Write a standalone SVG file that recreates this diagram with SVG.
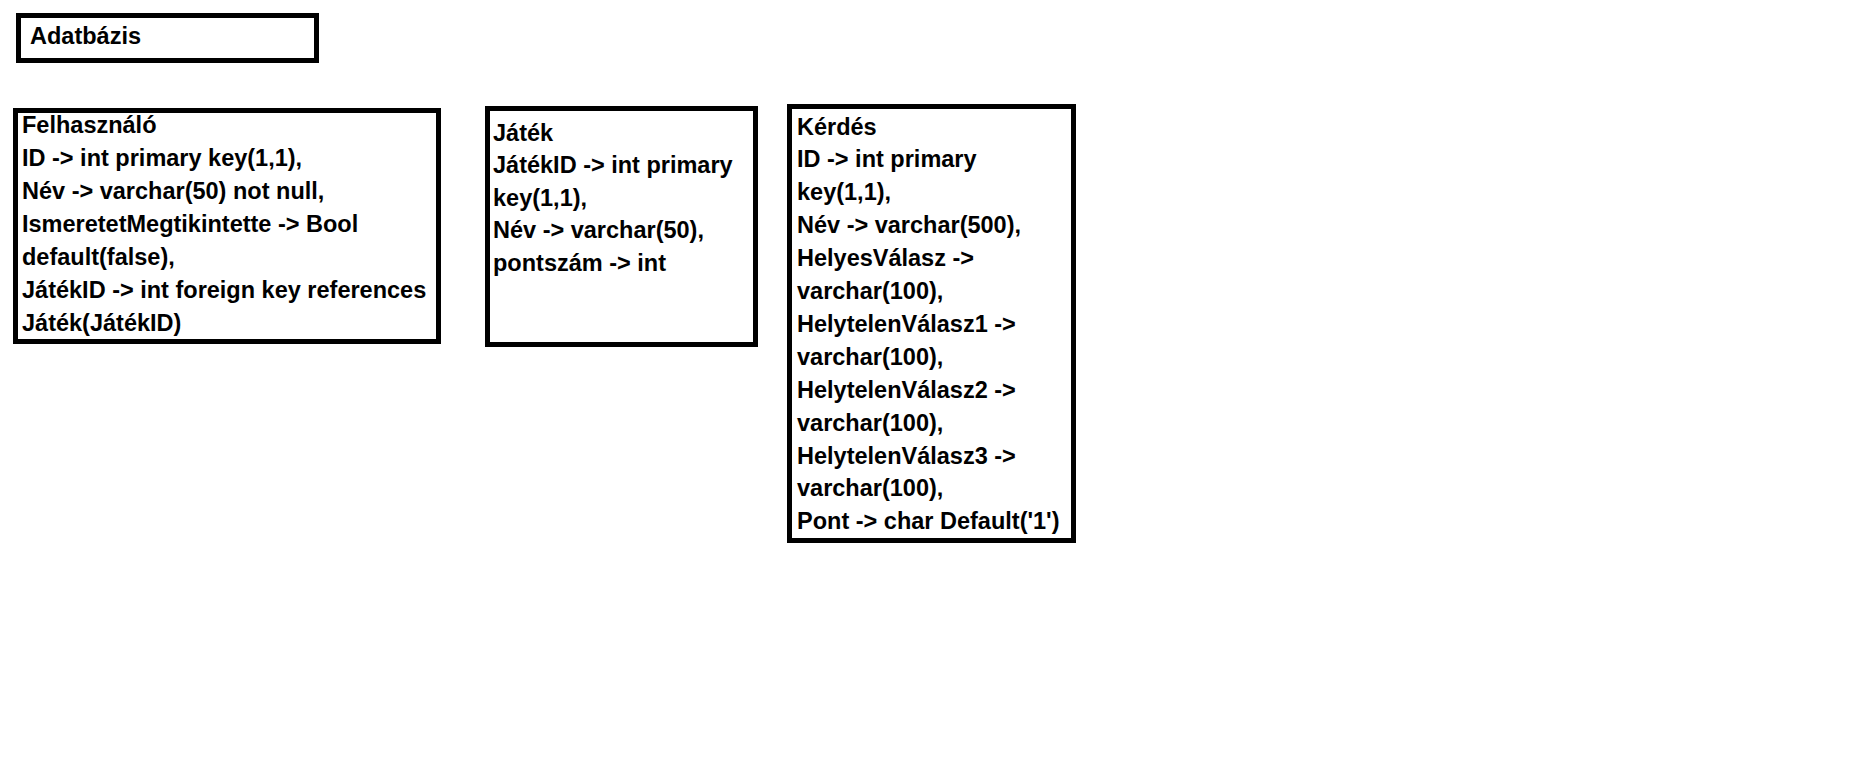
<svg xmlns="http://www.w3.org/2000/svg" width="1876" height="769" viewBox="0 0 1876 769">
<style>
.box{fill:#ffffff;stroke:#000000;stroke-width:5}
.t{font-family:"Liberation Sans",Arial,sans-serif;font-weight:bold;font-size:23.5px;fill:#000000}
</style>
<rect x="0" y="0" width="1876" height="769" fill="#ffffff"/>
<g id="adatbazis">
<rect class="box" x="18.5" y="15.5" width="298" height="45"/>
<text class="t" x="30" y="44">Adatbázis</text>
</g>
<g id="felhasznalo">
<rect class="box" x="15.5" y="110.5" width="423" height="231"/>
<text class="t" x="22" y="133">Felhasználó</text>
<text class="t" x="22" y="166">ID -&gt; int primary key(1,1),</text>
<text class="t" x="22" y="199">Név -&gt; varchar(50) not null,</text>
<text class="t" x="22" y="232">IsmeretetMegtikintette -&gt; Bool</text>
<text class="t" x="22" y="265">default(false),</text>
<text class="t" x="22" y="298">JátékID -&gt; int foreign key references</text>
<text class="t" x="22" y="331">Játék(JátékID)</text>
</g>
<g id="jatek">
<rect class="box" x="487.5" y="108.5" width="268" height="236"/>
<text class="t" x="493" y="140.5">Játék</text>
<text class="t" x="493" y="173">JátékID -&gt; int primary</text>
<text class="t" x="493" y="205.5">key(1,1),</text>
<text class="t" x="493" y="238">Név -&gt; varchar(50),</text>
<text class="t" x="493" y="270.5">pontszám -&gt; int</text>
</g>
<g id="kerdes">
<rect class="box" x="789.5" y="106.5" width="284" height="434"/>
<text class="t" x="797" y="134.5">Kérdés</text>
<text class="t" x="797" y="167.4">ID -&gt; int primary</text>
<text class="t" x="797" y="200.3">key(1,1),</text>
<text class="t" x="797" y="233.2">Név -&gt; varchar(500),</text>
<text class="t" x="797" y="266.1">HelyesVálasz -&gt;</text>
<text class="t" x="797" y="299">varchar(100),</text>
<text class="t" x="797" y="331.9">HelytelenVálasz1 -&gt;</text>
<text class="t" x="797" y="364.8">varchar(100),</text>
<text class="t" x="797" y="397.7">HelytelenVálasz2 -&gt;</text>
<text class="t" x="797" y="430.6">varchar(100),</text>
<text class="t" x="797" y="463.5">HelytelenVálasz3 -&gt;</text>
<text class="t" x="797" y="496.4">varchar(100),</text>
<text class="t" x="797" y="529.3">Pont -&gt; char Default('1')</text>
</g>
<g id="connectors"/>
</svg>
